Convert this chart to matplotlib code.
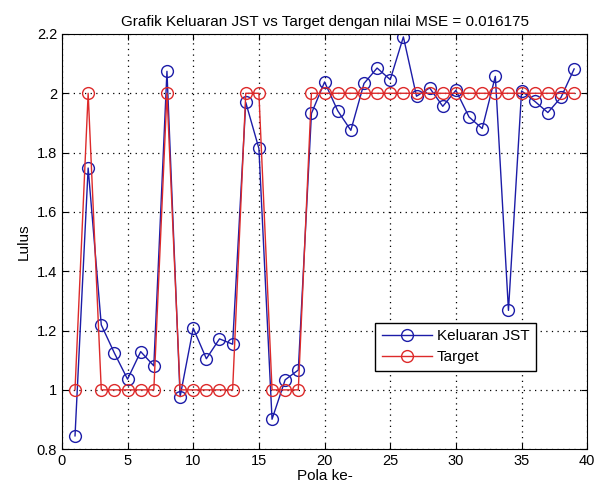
import numpy as np
import matplotlib
matplotlib.use("Agg")
import matplotlib.pyplot as plt

plt.rcParams['font.family'] = ['Liberation Sans', 'DejaVu Sans']

# output of the network (JST) and the target for each pattern
pola = np.arange(1, 40)
keluaran = [0.845, 1.748, 1.219, 1.124, 1.036, 1.129, 1.081, 2.074, 0.977, 1.208,
            1.105, 1.172, 1.154, 1.969, 1.814, 0.901, 1.034, 1.067, 1.932, 2.038,
            1.941, 1.875, 2.033, 2.085, 2.046, 2.190, 1.990, 2.018, 1.956, 2.010,
            1.920, 1.881, 2.057, 1.268, 2.008, 1.973, 1.935, 1.986, 2.082]
target = [1, 2, 1, 1, 1, 1, 1, 2, 1, 1,
          1, 1, 1, 2, 2, 1, 1, 1, 2, 2,
          2, 2, 2, 2, 2, 2, 2, 2, 2, 2,
          2, 2, 2, 2, 2, 2, 2, 2, 2]
mse = 0.016175

fig = plt.figure(figsize=(5.95, 4.92), dpi=100)
ax = fig.add_axes([0.104, 0.087, 0.883, 0.844])

ax.plot(pola, keluaran, '-o', color='#1c1ca8', lw=1.0, ms=8.5,
        mfc='none', mew=1.0, label='Keluaran JST')
ax.plot(pola, target, '-o', color='#dd2a2a', lw=1.0, ms=8.5,
        mfc='none', mew=1.0, label='Target')

ax.set_xlim(0, 40)
ax.set_ylim(0.8, 2.2)
ax.set_xticks(np.arange(0, 41, 5))
ax.set_yticks(np.arange(0.8, 2.21, 0.2))
ax.set_yticklabels(['0.8', '1', '1.2', '1.4', '1.6', '1.8', '2', '2.2'])
ax.tick_params(direction='in', top=True, right=True, labelsize=10.5, length=4)
ax.grid(True, linestyle=(0, (1, 3.5)), color='black', lw=0.9)

ax.set_xlabel('Pola ke-', fontsize=11, labelpad=1)
ax.set_ylabel('Lulus', fontsize=11, labelpad=4)
ax.set_title('Grafik Keluaran JST vs Target dengan nilai MSE = %g' % mse,
             fontsize=11, pad=6)

leg = ax.legend(loc='lower left', bbox_to_anchor=(0.596, 0.188), fontsize=11,
                fancybox=False, framealpha=1, edgecolor='black',
                handlelength=3.3, borderpad=0.45, labelspacing=0.45,
                handletextpad=0.3, borderaxespad=0)
leg.get_frame().set_linewidth(1.0)

fig.savefig('out.png', dpi=100)
